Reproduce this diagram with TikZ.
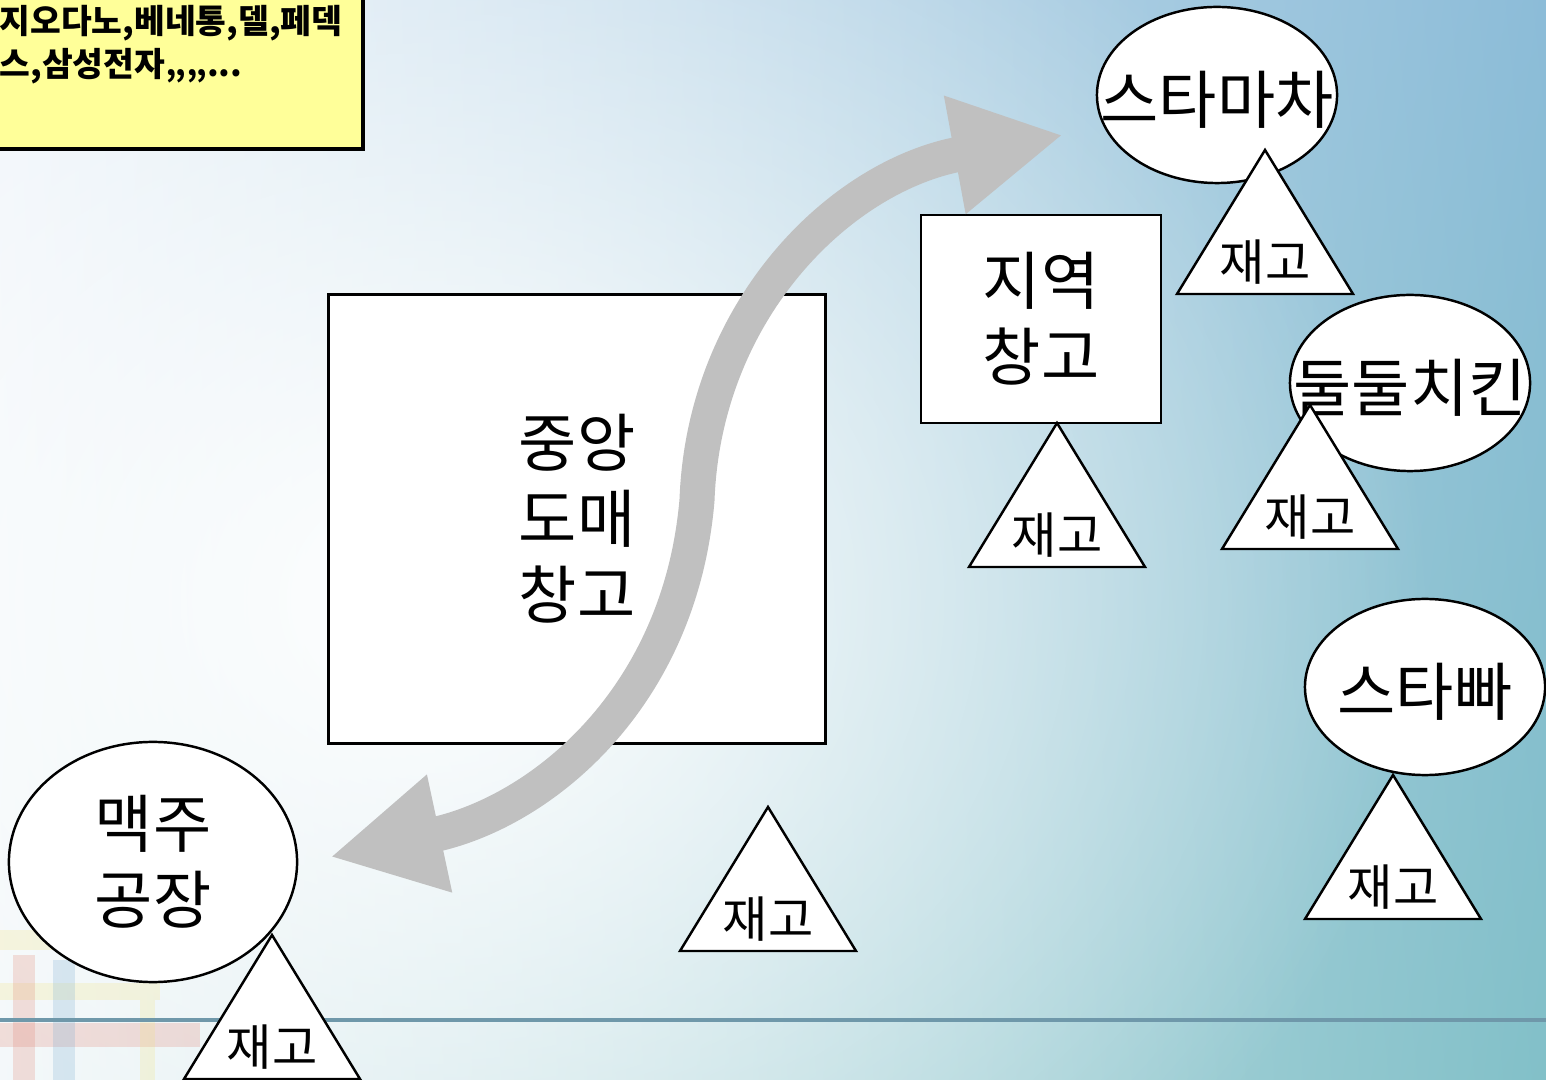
\documentclass[tikz,border=0pt]{standalone}
\usepackage{fontspec}
\setmainfont{Noto Sans CJK KR}
\usepackage{tikz}
\usetikzlibrary{arrows.meta, shapes.geometric, shadings, fadings}

\definecolor{memoyellow}{HTML}{FFFF99}
\definecolor{arrowgray}{HTML}{C0C0C0}
\definecolor{bgtl}{HTML}{EEF4FA}
\definecolor{bgtr}{HTML}{8CBCD8}
\definecolor{bgbl}{HTML}{F0F6F8}
\definecolor{bgbr}{HTML}{82C0C8}
\definecolor{rulegray}{HTML}{6F98AA}
\definecolor{decored}{HTML}{E07A68}
\definecolor{decoyellow}{HTML}{F2E27A}
\definecolor{decoblue}{HTML}{6EA6D0}

\tikzfading[name=glowfade, inner color=transparent!0, outer color=transparent!100]

\begin{document}
\begin{tikzpicture}[
    x=0.01cm, y=-0.01cm,
    bigtext/.style={font=\fontsize{18}{21.6}\selectfont},
    wbox/.style={draw, fill=white, line width=0.8pt, align=center, bigtext},
    site/.style={draw, fill=white, ellipse, line width=0.7pt, inner sep=0pt, minimum width=2.4cm, minimum height=1.76cm},
    sitetext/.style={bigtext, yshift=-1.5pt},
    stockline/.style={draw, fill=white, line width=0.7pt},
    stocktext/.style={font=\fontsize{14}{16}\selectfont, inner sep=0pt},
    flow/.style={draw=arrowgray, line width=0.35cm, {Triangle[length=1.12cm, width=1.12cm]}-{Triangle[length=1.1cm, width=1.12cm]}},
    memo/.style={draw, fill=memoyellow, line width=1pt, minimum width=3.71cm, minimum height=1.57cm, anchor=north west},
    memotext/.style={font=\fontsize{9.5}{12}\selectfont\bfseries, align=left, inner sep=0pt}
]

% --- Background ---
\useasboundingbox (0,0) rectangle (1546,1080);
\clip (0,0) rectangle (1546,1080);
\shade[upper left=bgtl, upper right=bgtr, lower left=bgbl, lower right=bgbr] (0,0) rectangle (1546,1080);
\fill[white, path fading=glowfade] (430,600) ellipse (1000 and 850);
\begin{scope}[opacity=0.22]
  \fill[decoyellow] (0,930) rectangle (120,950);
  \fill[decoyellow] (0,983) rectangle (160,1000);
  \fill[decored] (0,1023) rectangle (200,1047);
  \fill[decored] (13,955) rectangle (35,1080);
  \fill[decoblue] (53,960) rectangle (75,1080);
  \fill[decoyellow] (140,1000) rectangle (155,1080);
\end{scope}
\draw[rulegray, line width=0.9pt] (0,1020) -- (1546,1020);

% --- Note ---
\node[memo] (memo) at (-10,-10) {};
\node[memotext, anchor=north west] (brands) at (-1,5) {지오다노,베네통,델,페덱\\스,삼성전자,,,,...};

% --- Warehouses ---
\node[wbox, minimum width=4.96cm, minimum height=4.48cm] (central) at (577,519) {중앙\\도매\\창고};
\node[wbox, minimum width=2.4cm, minimum height=2.08cm] (regional) at (1041,319) {지역\\창고};

% --- Flow arrow ---
\draw[flow] (330,857) .. controls (540,812) and (680,700) .. (697,500)
    .. controls (704,310) and (840,176) .. (1063,135);

% --- Factory and shops ---
\node[site, minimum width=2.88cm, minimum height=2.4cm, bigtext, align=center] (brewery) at (153,862) {맥주\\공장};
\node[site, label={[sitetext]center:스타마차}] (stamacha) at (1217,95) {};
\node[site, label={[sitetext]center:둘둘치킨}] (chicken) at (1410,383) {};
\node[site, label={[sitetext]center:스타빠}] (starbar) at (1425,687) {};

% --- Stock triangles ---
\foreach \x/\y [count=\i] in {1265/150, 1057/423, 1310/405, 1393/775, 768/807, 272/935} {
  \path[stockline] (\x,\y) -- ++(88,144) -- ++(-176,0) -- cycle;
  \node[stocktext] (stock\i) at (\x,\y+112) {재고};
}

\end{tikzpicture}
\end{document}
